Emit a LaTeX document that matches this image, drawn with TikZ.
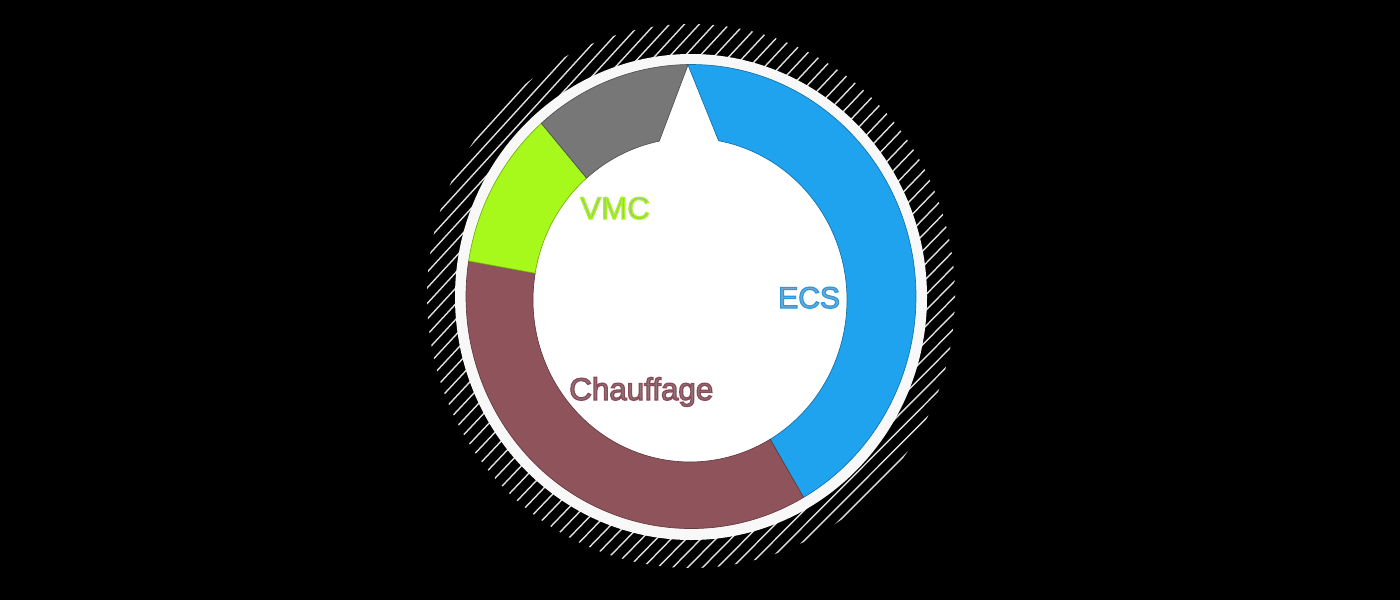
\documentclass[tikz,border=0pt]{standalone}
\usepackage{fontspec}
\setmainfont{Liberation Sans}
\definecolor{cblue}{HTML}{1FA3EF}
\definecolor{cred}{HTML}{8F545B}
\definecolor{cgreen}{HTML}{A7F91C}
\definecolor{cgrey}{HTML}{777777}
\definecolor{hatchc}{HTML}{E0E0E0}
\definecolor{ringc}{HTML}{F8F8F8}
\definecolor{vmcin}{HTML}{A8C080}
\definecolor{ecsin}{HTML}{7FA8C8}
\definecolor{chin}{HTML}{8C7478}
\font\labfont="Liberation Sans:embolden=4" at 23.5pt
\font\ecsfont="Liberation Sans:embolden=4" at 22.5pt
\newcommand\OX[1]{{691+225*cos(#1)},{296.5+232*sin(#1)}}
\newcommand\IX[1]{{690+157*cos(#1)},{300+162*sin(#1)}}
\newcommand\OA[2]{arc[start angle=#1,end angle=#2,x radius=225,y radius=232]}
\newcommand\IA[2]{arc[start angle=#1,end angle=#2,x radius=157,y radius=162]}
\newcommand\strokergb[1]{\special{pdf:code #1 RG}}
\tikzset{
  seg/.style={fill=#1,draw=#1!70!black,line width=0.5pt,line join=round},
  lab/.style={inner sep=0pt,anchor=base west},
}
\begin{document}
\begin{tikzpicture}[x=0.75pt,y=-0.75pt]
\useasboundingbox (0,0) rectangle (1400,600);
\fill[black] (0,0) rectangle (1400,600);
% hatching, clipped to an ellipse
\begin{scope}
\clip (691,296) ellipse [x radius=264,y radius=272];
\foreach \i in {0,...,49}{
  \pgfmathsetmacro\mx{502+372.5*(\i/49)}
  \pgfmathsetmacro\my{111+374.5*(\i/49)}
  \pgfmathsetmacro\slp{1.1-0.1*(\i/49)}
  \draw[hatchc,line width=1.05pt] ({\mx-400},{\my+400*\slp}) -- ({\mx+400},{\my-400*\slp});
}
\end{scope}
% white disc
\fill[ringc] (691,297) ellipse [x radius=236,y radius=243];
% segments
\coordinate (tip) at (688,65);
\fill[white] (690,300) ellipse [x radius=157,y radius=162];
\fill[white] (tip) -- (\IX{258.7}) -- (\IX{280.5}) -- cycle;
\path[seg=cblue] (tip) -- (\OX{269.2}) \OA{269.2}{420} -- (\IX{59.3}) \IA{59.3}{-79.5} -- cycle;
\path[seg=cred] (\OX{60}) \OA{60}{188.8} -- (\IX{189.5}) \IA{189.5}{59.3} -- cycle;
\path[seg=cgreen] (\OX{188.8}) \OA{188.8}{228.3} -- (\IX{228.8}) \IA{228.8}{189.5} -- cycle;
\path[seg=cgrey] (\OX{228.3}) \OA{228.3}{269.2} -- (tip) -- (\IX{258.7}) \IA{258.7}{228.8} -- cycle;
% labels
\node[lab,text=vmcin] (vmc) at (580,219) {\strokergb{0.65 0.97 0.11}\labfont VMC};
\node[lab,text=ecsin] (ecs) at (778,308) {\strokergb{0.16 0.6 0.88}\ecsfont ECS};
\node[lab,text=chin] (chauffage) at (569,400) {\strokergb{0.54 0.29 0.34}\labfont Chauffage};
\end{tikzpicture}
\end{document}
